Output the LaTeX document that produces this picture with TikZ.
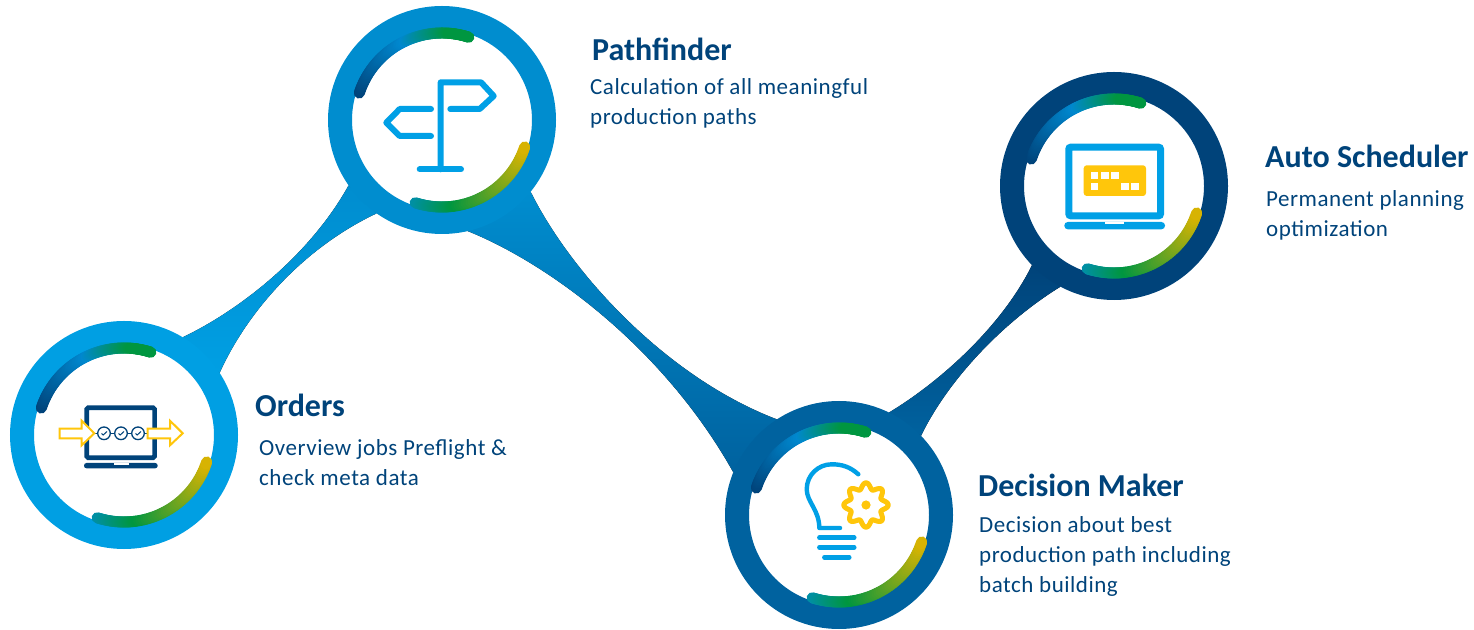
\documentclass[tikz,border=0pt]{standalone}
\usepackage{fontspec}
\setmainfont{Carlito}
\usetikzlibrary{backgrounds}

\definecolor{ringsky}{HTML}{009FE3}
\definecolor{ringmid}{HTML}{008DCF}
\definecolor{ringdeep}{HTML}{00629F}
\definecolor{ringnavy}{HTML}{00437A}
\definecolor{arcblue}{HTML}{0088CF}
\definecolor{arcteal}{HTML}{008FA8}
\definecolor{arcgreen}{HTML}{009640}
\definecolor{arcyellow}{HTML}{DCB400}
\definecolor{iconblue}{HTML}{00A0E6}
\definecolor{iconyellow}{HTML}{FFC60B}

\tikzset{
  ring/.style={circle,draw=#1,line width=24pt,fill=white,minimum size=204pt,inner sep=0pt},
  bandline/.style={line width=11pt,line cap=round},
  title/.style={anchor=base west,inner sep=0pt,text=ringnavy,font=\fontsize{32}{36}\selectfont\bfseries},
  body/.style={anchor=base west,inner sep=0pt,text=ringnavy,align=left,font=\addfontfeature{LetterSpace=2.3}\fontsize{23}{30}\selectfont},
  iconline/.style={draw=iconblue,line width=#1,line cap=round,line join=round},
}

\newcommand{\bandarc}[5]{%
  \foreach \i in {0,...,39} {
    \pgfmathsetmacro{\a}{#2+(#3-#2)*\i/40}
    \pgfmathsetmacro{\b}{#2+(#3-#2)*(\i+1)/40}
    \pgfmathsetmacro{\p}{2.5*\i}
    \draw[bandline,color=#5!\p!#4] (#1) ++(\a:87) arc[start angle=\a,end angle=\b,radius=87];
  }}
\newcommand{\ringbands}[1]{%
  \bandarc{#1}{162}{116}{ringnavy}{arcblue}
  \bandarc{#1}{116}{86}{arcblue}{arcgreen}
  \bandarc{#1}{86}{72}{arcgreen}{arcgreen}
  \bandarc{#1}{252}{278}{arcteal}{arcgreen}
  \bandarc{#1}{278}{342}{arcgreen}{arcyellow}}

\begin{document}
\begin{tikzpicture}[x=1pt,y=1pt]
  \useasboundingbox (0,0) rectangle (1474,629);

  \node[ring=ringsky] (orders) at (124,194) {};
  \node[ring=ringmid] (pathfinder) at (442,509) {};
  \node[ring=ringdeep] (decider) at (839,114) {};
  \node[ring=ringnavy] (scheduler) at (1114,443) {};

  \begin{scope}[on background layer]
    \fill[bottom color=ringsky,top color=ringmid]
      (orders.59) .. controls (240,319) and (310,374) .. (pathfinder.215)
      -- (pathfinder.235) .. controls (305,382) and (248,319) .. (orders.33) -- cycle;
    \fill[top color=ringmid,bottom color=ringdeep]
      (pathfinder.-39) .. controls (572,354) and (668,251) .. (decider.123)
      -- (decider.158) .. controls (662,284) and (545,367) .. (pathfinder.-77) -- cycle;
    \fill[bottom color=ringdeep,top color=ringnavy]
      (decider.64) .. controls (935,244) and (1000,299) .. (scheduler.224)
      -- (scheduler.242) .. controls (1003,307) and (948,249) .. (decider.44) -- cycle;
  \end{scope}

  \ringbands{orders}
  \ringbands{pathfinder}
  \ringbands{decider}
  \ringbands{scheduler}

  % orders icon
  \begin{scope}[shift={(orders)}]
    \draw[ringnavy,line width=4.7pt,rounded corners=1.5pt] (-37.3,27.3) rectangle (30.6,-22.7);
    \fill[ringnavy,rounded corners=2.5pt] (-40,-28) rectangle (33.7,-33.3);
    \fill[white] (-9.7,-28) rectangle (5,-30);
    \draw[ringnavy,line width=1.2pt] (-30,1.7) -- (24,1.7);
    \foreach \x in {-20,-3,14} {
      \draw[ringnavy,line width=1.3pt,fill=white] (\x,1.7) circle (6.3);
      \draw[ringnavy,line width=1pt] (\x-2.5,1.5) -- (\x-0.8,0) -- (\x+3,3.5);
    }
    \draw[iconyellow,line width=2pt,fill=white] (-64.3,6.3) -- (-42.3,6.3) -- (-42.3,14.3) -- (-29.7,1.7)
      -- (-42.3,-10.3) -- (-42.3,-3.3) -- (-64.3,-3.3) -- cycle;
    \draw[iconyellow,line width=2pt,fill=white] (23.7,6.3) -- (46,6.3) -- (46,14.3) -- (58.7,1.7)
      -- (46,-10.3) -- (46,-3.3) -- (23.7,-3.3) -- cycle;
  \end{scope}

  % pathfinder icon
  \begin{scope}[shift={(pathfinder)}]
    \draw[iconline=6pt] (-1.3,-49.3) -- (-1.3,37.7) -- (39,37.7) -- (51.7,24) -- (37.7,11) -- (8.3,11);
    \draw[iconline=6pt] (-11,11) -- (-42.3,11) -- (-55.7,-2.7) -- (-42.3,-16) -- (-11,-16);
    \draw[iconline=6pt] (-22.3,-49.3) -- (19,-49.3);
  \end{scope}

  % decider icon
  \begin{scope}[shift={(decider)}]
    \draw[iconline=4.4pt] (19.3,40.7) .. controls (11,48.3) and (2.7,50.7) .. (-7.3,50.7)
      .. controls (-20.7,50.7) and (-32.3,40) .. (-32.3,25.7)
      .. controls (-32.3,13.3) and (-19.7,5) .. (-19.7,-13) -- (1,-13);
    \draw[iconline=4.4pt] (-19.7,-22.7) -- (15.3,-22.7);
    \draw[iconline=4.4pt] (-19.7,-32.3) -- (15.3,-32.3);
    \draw[iconline=4.4pt] (-14.7,-42.3) -- (10.3,-42.3);
    \draw[iconyellow,line width=5pt,line join=round] plot[domain=0:360,samples=145,smooth]
      ({27+(19.2+3*cos(8*\x))*cos(\x)},{10+(19.2+3*cos(8*\x))*sin(\x)}) -- cycle;
    \fill[iconyellow] (27,10) circle (4.6);
  \end{scope}

  % scheduler icon
  \begin{scope}[shift={(scheduler)}]
    \draw[iconblue,line width=7pt,rounded corners=2pt] (-45.2,38.8) rectangle (46.5,-29.8);
    \fill[iconblue,rounded corners=3.5pt] (-49.7,-36) rectangle (51,-43.3);
    \fill[white] (-9,-36) rectangle (10,-38.3);
    \fill[iconyellow,rounded corners=3pt] (-30.3,20.7) rectangle (32,-10);
    \foreach \x in {-23.3,-13,-3} \fill[white] (\x,14.3) rectangle ++(7.5,-7.5);
    \foreach \x in {-23.3,7,17.3} \fill[white] (\x,3.3) rectangle ++(7.5,-7.5);
  \end{scope}

  \node[title] (orderstitle) at (255,212) {Orders};
  \node[body] (orderstext) at (259,143) {Overview jobs Preflight \&\\check meta data};
  \node[title] (pathtitle) at (592,568) {Pathfinder};
  \node[body] (pathtext) at (590,504) {Calculation of all meaningful\\production paths};
  \node[title] (decidertitle) at (978,132) {Decision Maker};
  \node[body] (decidertext) at (979,37) {Decision about best\\production path including\\batch building};
  \node[title] (schedtitle) at (1265,461) {Auto Scheduler};
  \node[body] (schedtext) at (1266,392) {Permanent planning\\optimization};
\end{tikzpicture}
\end{document}
